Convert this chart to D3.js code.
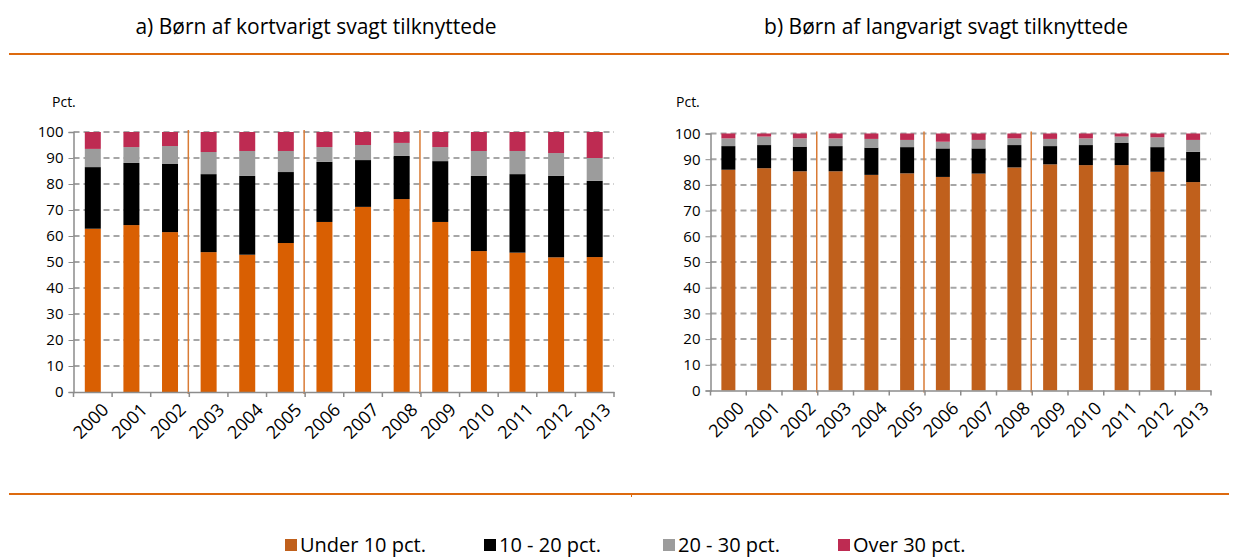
<!DOCTYPE html>
<html>
<head>
<meta charset="utf-8">
<script src="https://cdn.jsdelivr.net/npm/d3@7"></script>
<style>
  body { margin: 0; background: #fff; }
  svg { font-family: "Open Sans", "Noto Sans", sans-serif; }
</style>
</head>
<body>
<svg id="chart" width="1239" height="557"></svg>
<script>
// years on the x axis
const years = ['2000', '2001', '2002', '2003', '2004', '2005', '2006',
  '2007', '2008', '2009', '2010', '2011', '2012', '2013'];
const yTicks = [0, 10, 20, 30, 40, 50, 60, 70, 80, 90, 100];
const seriesNames = ['Under 10 pct.', '10 - 20 pct.', '20 - 30 pct.', 'Over 30 pct.'];

// a) kortvarigt: shares per group (pct.)
const shortUnder10 = [62.8, 64.2, 61.5, 53.8, 52.8, 57.3, 65.4, 71.2, 74.2, 65.4, 54.2, 53.6, 51.8, 51.9];
const short10to20 = [23.7, 23.9, 26.2, 30.0, 30.3, 27.3, 23.1, 18.0, 16.6, 23.4, 28.9, 30.2, 31.3, 29.3];
const short20to30 = [7.0, 6.1, 6.9, 8.5, 9.6, 8.1, 5.7, 5.8, 5.0, 5.4, 9.6, 8.9, 8.8, 8.8];
const shortOver30 = [6.5, 5.8, 5.4, 7.7, 7.3, 7.3, 5.8, 5.0, 4.2, 5.8, 7.3, 7.3, 8.1, 10.0];

// b) langvarigt
const longUnder10 = [85.9, 86.5, 85.3, 85.3, 83.9, 84.5, 83.1, 84.4, 86.8, 88.0, 87.7, 87.7, 85.1, 81.1];
const long10to20 = [9.2, 9.0, 9.6, 9.8, 10.6, 10.2, 11.1, 9.8, 8.7, 7.1, 7.8, 8.6, 9.6, 11.8];
const long20to30 = [3.0, 3.3, 3.2, 3.0, 3.4, 2.8, 2.6, 3.3, 2.6, 2.8, 2.6, 2.5, 3.8, 4.6];
const longOver30 = [1.9, 1.2, 1.9, 1.9, 2.1, 2.5, 3.2, 2.5, 1.9, 2.1, 1.9, 1.2, 1.5, 2.5];

const rule = '#dd6a0e';
const grid = '#a6a6a6';

const panels = [
  {
    title: 'a) Børn af kortvarigt svagt tilknyttede',
    series: [shortUnder10, short10to20, short20to30, shortOver30],
    colors: ['#d95f02', '#000000', '#9c9c9c', '#be2b52'],
    x0: 73.5, x1: 614, y0: 392, y1: 132, bar: 16, titleX: 316, pctX: 52
  },
  {
    title: 'b) Børn af langvarigt svagt tilknyttede',
    series: [longUnder10, long10to20, long20to30, longOver30],
    colors: ['#c0601c', '#000000', '#9c9c9c', '#be2b52'],
    x0: 710.5, x1: 1211, y0: 390.5, y1: 133.5, bar: 14, titleX: 946, pctX: 676
  }
];

const legendColors = ['#c0601c', '#000000', '#9c9c9c', '#be2b52'];

const svg = d3.select('#chart');

// orange rules top and bottom
svg.append('line').attr('x1', 9).attr('x2', 1229).attr('y1', 54).attr('y2', 54)
  .attr('stroke', rule).attr('stroke-width', 2);
svg.append('line').attr('x1', 9).attr('x2', 1229).attr('y1', 494).attr('y2', 494)
  .attr('stroke', rule).attr('stroke-width', 2);
svg.append('line').attr('x1', 631.5).attr('x2', 631.5).attr('y1', 494).attr('y2', 497)
  .attr('stroke', rule).attr('stroke-width', 1);

panels.forEach(p => {
  const g = svg.append('g');

  g.append('text').attr('x', p.titleX).attr('y', 34)
    .attr('text-anchor', 'middle').attr('font-size', 21).attr('fill', '#000')
    .text(p.title);

  g.append('text').attr('x', p.pctX).attr('y', 107)
    .attr('font-size', 14).attr('fill', '#000').text('Pct.');

  const x = d3.scaleBand().domain(years).range([p.x0, p.x1]);
  const y = d3.scaleLinear().domain([0, 100]).range([p.y0, p.y1]);

  // dashed gridlines
  g.append('g').selectAll('line').data(yTicks.filter(d => d > 0)).join('line')
    .attr('x1', p.x0).attr('x2', p.x1)
    .attr('y1', d => y(d)).attr('y2', d => y(d))
    .attr('stroke', grid).attr('stroke-width', 2).attr('stroke-dasharray', '6,4');

  // stacked bars
  const rows = years.map((yr, i) => {
    const r = { year: yr };
    p.series.forEach((s, k) => { r['s' + k] = s[i]; });
    return r;
  });
  const stacked = d3.stack().keys(['s0', 's1', 's2', 's3'])(rows);

  g.append('g').selectAll('g').data(stacked).join('g')
    .attr('fill', (d, k) => p.colors[k])
    .selectAll('rect').data(d => d).join('rect')
    .attr('x', d => x(d.data.year) + (x.bandwidth() - p.bar) / 2)
    .attr('width', p.bar)
    .attr('y', d => y(Math.min(d[1], 100)))
    .attr('height', d => y(d[0]) - y(Math.min(d[1], 100)));

  // orange period dividers after 2002, 2005, 2008
  g.append('g').selectAll('line').data(['2003', '2006', '2009']).join('line')
    .attr('x1', d => x(d) - 1).attr('x2', d => x(d) - 1)
    .attr('y1', p.y1 - 2).attr('y2', p.y0 + 2)
    .attr('stroke', '#d97b35').attr('stroke-width', 1.5);

  // y axis
  const yAxis = g.append('g').attr('transform', `translate(${p.x0},0)`)
    .call(d3.axisLeft(y).tickValues(yTicks).tickSize(5).tickPadding(5));
  yAxis.select('.domain').attr('stroke', '#8c8c8c').attr('stroke-width', 1.5);
  yAxis.selectAll('.tick line').attr('stroke', '#8c8c8c');
  yAxis.selectAll('text').attr('font-size', 15).attr('font-family', '"Open Sans", sans-serif').attr('fill', '#000');

  // x axis
  const xAxis = g.append('g').attr('transform', `translate(0,${p.y0})`)
    .call(d3.axisBottom(x).tickSize(0).tickPadding(0));
  xAxis.select('.domain').attr('stroke', '#8c8c8c').attr('stroke-width', 1.5);
  // tick marks at band boundaries
  xAxis.append('g').selectAll('line').data(d3.range(years.length + 1)).join('line')
    .attr('x1', i => p.x0 + i * x.step()).attr('x2', i => p.x0 + i * x.step())
    .attr('y1', 0).attr('y2', 5).attr('stroke', '#8c8c8c').attr('stroke-width', 1.5);
  xAxis.selectAll('.tick text')
    .attr('font-size', 18).attr('font-family', '"Open Sans", sans-serif').attr('fill', '#000')
    .attr('text-anchor', 'end').attr('dy', 0)
    .attr('transform', 'translate(17,19) rotate(-45)');
});

// legend
const legendX = [285, 484, 663, 838];
const lg = svg.append('g');
seriesNames.forEach((name, i) => {
  lg.append('rect').attr('x', legendX[i]).attr('y', 539).attr('width', 12).attr('height', 12)
    .attr('fill', legendColors[i]);
  lg.append('text').attr('x', legendX[i] + 15).attr('y', 552)
    .attr('font-size', 20).attr('fill', '#000').text(name);
});
</script>
</body>
</html>
